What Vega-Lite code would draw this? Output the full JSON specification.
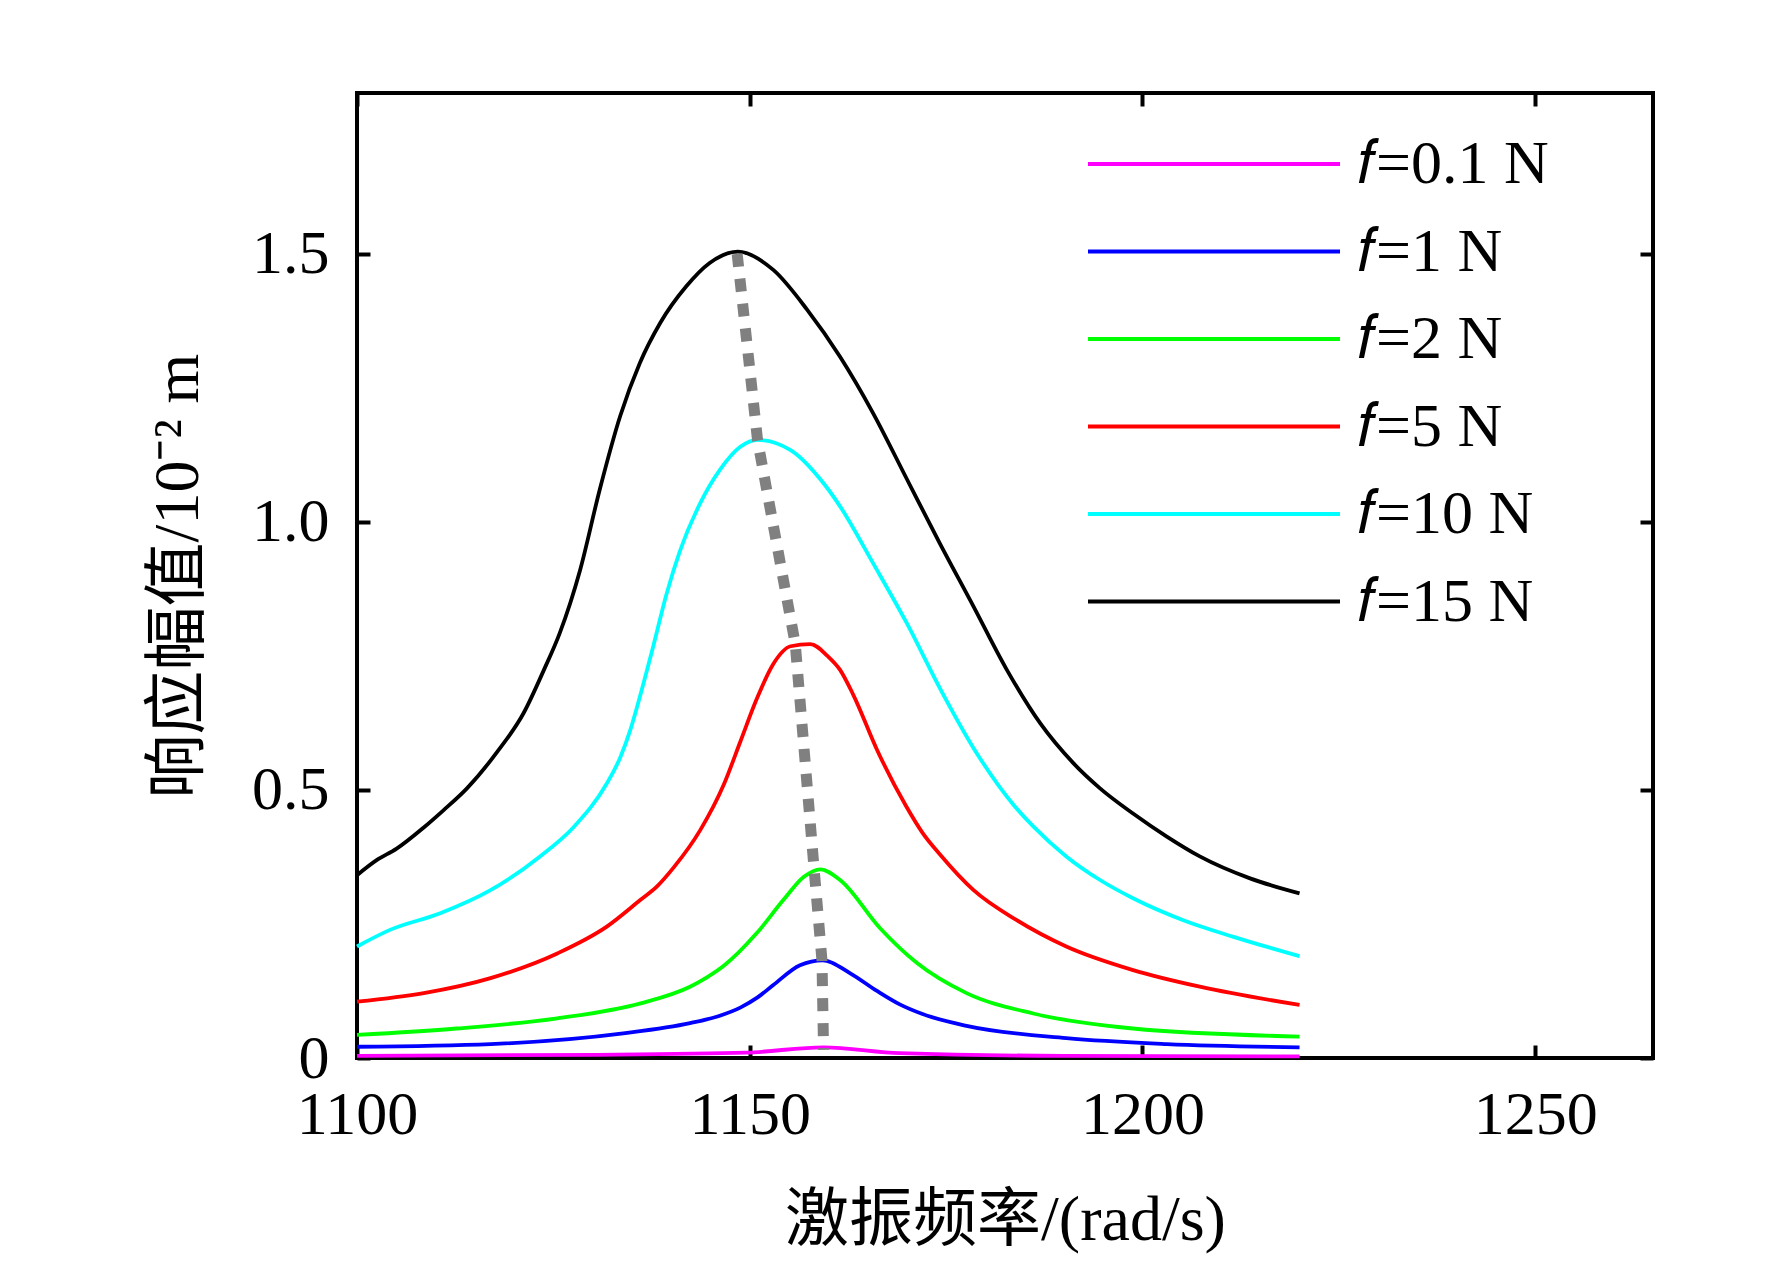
{
  "$schema": "https://vega.github.io/schema/vega-lite/v6.json",
  "width": 1296,
  "height": 965,
  "autosize": {"type": "none"},
  "padding": {"left": 357, "top": 93, "right": 119, "bottom": 207},
  "background": "white",
  "config": {
    "view": {"stroke": "black", "strokeWidth": 4},
    "font": "Liberation Serif"
  },
  "layer": [
    {
      "data": {
        "values": [
          {"force": "15", "freq": 1100, "amp": 0.341},
          {"force": "15", "freq": 1102.5, "amp": 0.369},
          {"force": "15", "freq": 1105, "amp": 0.39},
          {"force": "15", "freq": 1108.5, "amp": 0.43},
          {"force": "15", "freq": 1111, "amp": 0.462},
          {"force": "15", "freq": 1114, "amp": 0.503},
          {"force": "15", "freq": 1117.8, "amp": 0.57},
          {"force": "15", "freq": 1121.2, "amp": 0.643},
          {"force": "15", "freq": 1123.8, "amp": 0.724},
          {"force": "15", "freq": 1125.8, "amp": 0.792},
          {"force": "15", "freq": 1128.4, "amp": 0.91},
          {"force": "15", "freq": 1130.9, "amp": 1.06},
          {"force": "15", "freq": 1133.5, "amp": 1.197},
          {"force": "15", "freq": 1136, "amp": 1.296},
          {"force": "15", "freq": 1138.6, "amp": 1.371},
          {"force": "15", "freq": 1141.9, "amp": 1.439},
          {"force": "15", "freq": 1144.9, "amp": 1.483},
          {"force": "15", "freq": 1148.5, "amp": 1.504},
          {"force": "15", "freq": 1153, "amp": 1.47},
          {"force": "15", "freq": 1157.3, "amp": 1.396},
          {"force": "15", "freq": 1161.5, "amp": 1.308},
          {"force": "15", "freq": 1165.7, "amp": 1.203},
          {"force": "15", "freq": 1170, "amp": 1.08},
          {"force": "15", "freq": 1174.2, "amp": 0.96},
          {"force": "15", "freq": 1178.5, "amp": 0.842},
          {"force": "15", "freq": 1182.7, "amp": 0.725},
          {"force": "15", "freq": 1187, "amp": 0.624},
          {"force": "15", "freq": 1191.2, "amp": 0.55},
          {"force": "15", "freq": 1194.6, "amp": 0.503},
          {"force": "15", "freq": 1198.8, "amp": 0.456},
          {"force": "15", "freq": 1203.1, "amp": 0.413},
          {"force": "15", "freq": 1207.3, "amp": 0.376},
          {"force": "15", "freq": 1213.7, "amp": 0.335},
          {"force": "15", "freq": 1220, "amp": 0.307},

          {"force": "10", "freq": 1100, "amp": 0.208},
          {"force": "10", "freq": 1104.2, "amp": 0.239},
          {"force": "10", "freq": 1110.6, "amp": 0.27},
          {"force": "10", "freq": 1117, "amp": 0.313},
          {"force": "10", "freq": 1123.3, "amp": 0.376},
          {"force": "10", "freq": 1127.6, "amp": 0.431},
          {"force": "10", "freq": 1131.8, "amp": 0.512},
          {"force": "10", "freq": 1133.5, "amp": 0.56},
          {"force": "10", "freq": 1134.8, "amp": 0.612},
          {"force": "10", "freq": 1135.6, "amp": 0.652},
          {"force": "10", "freq": 1137.7, "amp": 0.767},
          {"force": "10", "freq": 1139.4, "amp": 0.865},
          {"force": "10", "freq": 1141.1, "amp": 0.945},
          {"force": "10", "freq": 1143.7, "amp": 1.035},
          {"force": "10", "freq": 1146.2, "amp": 1.097},
          {"force": "10", "freq": 1148.8, "amp": 1.14},
          {"force": "10", "freq": 1151, "amp": 1.153},
          {"force": "10", "freq": 1155.2, "amp": 1.134},
          {"force": "10", "freq": 1159.4, "amp": 1.072},
          {"force": "10", "freq": 1161.5, "amp": 1.029},
          {"force": "10", "freq": 1165.7, "amp": 0.923},
          {"force": "10", "freq": 1170, "amp": 0.811},
          {"force": "10", "freq": 1174.2, "amp": 0.69},
          {"force": "10", "freq": 1178.5, "amp": 0.578},
          {"force": "10", "freq": 1183.6, "amp": 0.472},
          {"force": "10", "freq": 1186.1, "amp": 0.432},
          {"force": "10", "freq": 1190.3, "amp": 0.376},
          {"force": "10", "freq": 1194.6, "amp": 0.332},
          {"force": "10", "freq": 1198.8, "amp": 0.298},
          {"force": "10", "freq": 1205.2, "amp": 0.257},
          {"force": "10", "freq": 1211.6, "amp": 0.226},
          {"force": "10", "freq": 1220, "amp": 0.19},

          {"force": "5", "freq": 1100, "amp": 0.105},
          {"force": "5", "freq": 1108.5, "amp": 0.121},
          {"force": "5", "freq": 1117, "amp": 0.149},
          {"force": "5", "freq": 1125.5, "amp": 0.195},
          {"force": "5", "freq": 1131.8, "amp": 0.245},
          {"force": "5", "freq": 1136.1, "amp": 0.295},
          {"force": "5", "freq": 1138.2, "amp": 0.32},
          {"force": "5", "freq": 1140.3, "amp": 0.355},
          {"force": "5", "freq": 1143.7, "amp": 0.425},
          {"force": "5", "freq": 1146.7, "amp": 0.51},
          {"force": "5", "freq": 1148.8, "amp": 0.59},
          {"force": "5", "freq": 1150.9, "amp": 0.67},
          {"force": "5", "freq": 1153, "amp": 0.735},
          {"force": "5", "freq": 1155.2, "amp": 0.768},
          {"force": "5", "freq": 1157.7, "amp": 0.772},
          {"force": "5", "freq": 1159.9, "amp": 0.75},
          {"force": "5", "freq": 1161.5, "amp": 0.724},
          {"force": "5", "freq": 1163.2, "amp": 0.677},
          {"force": "5", "freq": 1166.2, "amp": 0.575},
          {"force": "5", "freq": 1169.9, "amp": 0.47},
          {"force": "5", "freq": 1172, "amp": 0.42},
          {"force": "5", "freq": 1174.2, "amp": 0.38},
          {"force": "5", "freq": 1178.5, "amp": 0.313},
          {"force": "5", "freq": 1184, "amp": 0.257},
          {"force": "5", "freq": 1190.3, "amp": 0.208},
          {"force": "5", "freq": 1198.8, "amp": 0.164},
          {"force": "5", "freq": 1207.3, "amp": 0.133},
          {"force": "5", "freq": 1220, "amp": 0.099},

          {"force": "2", "freq": 1100, "amp": 0.043},
          {"force": "2", "freq": 1112.7, "amp": 0.055},
          {"force": "2", "freq": 1125.5, "amp": 0.074},
          {"force": "2", "freq": 1136.1, "amp": 0.102},
          {"force": "2", "freq": 1142.4, "amp": 0.133},
          {"force": "2", "freq": 1144.5, "amp": 0.15},
          {"force": "2", "freq": 1146.7, "amp": 0.172},
          {"force": "2", "freq": 1150.9, "amp": 0.233},
          {"force": "2", "freq": 1154.3, "amp": 0.295},
          {"force": "2", "freq": 1156.9, "amp": 0.338},
          {"force": "2", "freq": 1159, "amp": 0.352},
          {"force": "2", "freq": 1161.5, "amp": 0.332},
          {"force": "2", "freq": 1166.6, "amp": 0.242},
          {"force": "2", "freq": 1171.3, "amp": 0.177},
          {"force": "2", "freq": 1177.6, "amp": 0.121},
          {"force": "2", "freq": 1186.1, "amp": 0.083},
          {"force": "2", "freq": 1198.8, "amp": 0.055},
          {"force": "2", "freq": 1220, "amp": 0.04},

          {"force": "1", "freq": 1100, "amp": 0.021},
          {"force": "1", "freq": 1117, "amp": 0.026},
          {"force": "1", "freq": 1133.9, "amp": 0.046},
          {"force": "1", "freq": 1142.4, "amp": 0.065},
          {"force": "1", "freq": 1146, "amp": 0.078},
          {"force": "1", "freq": 1148.8, "amp": 0.094},
          {"force": "1", "freq": 1151, "amp": 0.113},
          {"force": "1", "freq": 1153, "amp": 0.136},
          {"force": "1", "freq": 1156.4, "amp": 0.173},
          {"force": "1", "freq": 1159.3, "amp": 0.182},
          {"force": "1", "freq": 1162.8, "amp": 0.158},
          {"force": "1", "freq": 1166.2, "amp": 0.125},
          {"force": "1", "freq": 1169.1, "amp": 0.1},
          {"force": "1", "freq": 1172, "amp": 0.082},
          {"force": "1", "freq": 1177.6, "amp": 0.06},
          {"force": "1", "freq": 1190.3, "amp": 0.037},
          {"force": "1", "freq": 1203.1, "amp": 0.026},
          {"force": "1", "freq": 1220, "amp": 0.02},

          {"force": "0.1", "freq": 1100, "amp": 0.004},
          {"force": "0.1", "freq": 1130, "amp": 0.006},
          {"force": "0.1", "freq": 1149.6, "amp": 0.01},
          {"force": "0.1", "freq": 1159.4, "amp": 0.02},
          {"force": "0.1", "freq": 1169.1, "amp": 0.009},
          {"force": "0.1", "freq": 1190, "amp": 0.004},
          {"force": "0.1", "freq": 1220, "amp": 0.003}
        ]
      },
      "mark": {"type": "line", "strokeWidth": 3.8, "interpolate": "monotone"},
      "encoding": {
        "x": {
          "field": "freq",
          "type": "quantitative",
          "scale": {"domain": [1100, 1265], "nice": false, "zero": false},
          "axis": {
            "values": [1100, 1150, 1200, 1250],
            "format": "d",
            "domain": false,
            "grid": false,
            "labelFlush": false,
            "tickSize": -13,
            "tickWidth": 4,
            "tickColor": "black",
            "labelFont": "Liberation Serif",
            "labelFontSize": 62,
            "labelColor": "black",
            "labelPadding": 39,
            "title": "激振频率/(rad/s)",
            "titleFont": "Liberation Serif, Noto Sans CJK SC",
            "titleFontSize": 64,
            "titleFontWeight": "normal",
            "titleColor": "black",
            "titlePadding": 43
          }
        },
        "y": {
          "field": "amp",
          "type": "quantitative",
          "scale": {"domain": [0, 1.8], "nice": false},
          "axis": {
            "values": [0, 0.5, 1, 1.5],
            "labelExpr": "datum.value == 0 ? '0' : format(datum.value, '.1f')",
            "domain": false,
            "grid": false,
            "labelFlush": false,
            "tickSize": -13,
            "tickWidth": 4,
            "tickColor": "black",
            "labelFont": "Liberation Serif",
            "labelFontSize": 62,
            "labelColor": "black",
            "labelPadding": 41,
            "title": "响应幅值/10⁻² m",
            "titleFont": "Liberation Serif, Noto Sans CJK SC",
            "titleFontSize": 64,
            "titleFontWeight": "normal",
            "titleColor": "black",
            "titlePadding": 41
          }
        },
        "color": {
          "field": "force",
          "type": "nominal",
          "scale": {
            "domain": ["0.1", "1", "2", "5", "10", "15"],
            "range": ["#ff00ff", "#0000ff", "#00ff00", "#ff0000", "#00ffff", "#000000"]
          },
          "legend": {
            "orient": "none",
            "legendX": 826,
            "legendY": 40,
            "padding": 0,
            "title": null,
            "symbolType": "M-9,0H9",
            "symbolSize": 784,
            "symbolStrokeWidth": 4,
            "labelExpr": "'𝑓=' + datum.label + ' N'",
            "labelFont": "Liberation Serif",
            "labelFontSize": 62,
            "labelColor": "black",
            "labelOffset": 112,
            "rowPadding": 25.5,
            "labelLimit": 0
          }
        }
      }
    },
    {
      "data": {
        "values": [
          {"freq": 1148.4, "amp": 1.5},
          {"freq": 1151.0, "amp": 1.152},
          {"freq": 1155.8, "amp": 0.772},
          {"freq": 1158.2, "amp": 0.352},
          {"freq": 1159.2, "amp": 0.182},
          {"freq": 1159.4, "amp": 0.015}
        ]
      },
      "mark": {"type": "line", "color": "#808080", "strokeWidth": 11, "strokeDash": [13, 12], "strokeCap": "butt"},
      "encoding": {
        "x": {
          "field": "freq",
          "type": "quantitative",
          "scale": {"domain": [1100, 1265], "nice": false, "zero": false},
          "axis": {
            "orient": "top",
            "values": [1100, 1150, 1200, 1250],
            "labels": false,
            "domain": false,
            "grid": false,
            "tickSize": -13,
            "tickWidth": 4,
            "tickColor": "black",
            "title": null
          }
        },
        "y": {
          "field": "amp",
          "type": "quantitative",
          "scale": {"domain": [0, 1.8], "nice": false},
          "axis": {
            "orient": "right",
            "values": [0, 0.5, 1, 1.5],
            "labels": false,
            "domain": false,
            "grid": false,
            "tickSize": -13,
            "tickWidth": 4,
            "tickColor": "black",
            "title": null
          }
        }
      }
    }
  ],
  "resolve": {"scale": {"x": "independent", "y": "independent"}}
}
